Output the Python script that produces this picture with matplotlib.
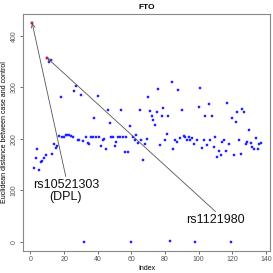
import matplotlib
matplotlib.use('Agg')
import matplotlib.pyplot as plt
import numpy as np

# distance per SNP index
dist = [425, 144, 162, 181, 139, 156, 158, 162, 169, 357,
        350, 354, 171, 190, 182, 186, 205, 281, 203, 203,
        207, 207, 207, 206, 203, 294, 303, 198, 197, 286,
        196, 0, 204, 192, 190, 204, 204, 241, 203, 284,
        203, 187, 198, 200, 181, 257, 230, 204, 204, 187,
        195, 203, 204, 257, 204, 175, 204, 175, 226, 0,
        204, 198, 208, 192, 257, 198, 160, 190, 199, 281,
        255, 244, 236, 228, 253, 296, 189, 244, 261, 198,
        209, 244, 2, 310, 181, 198, 195, 295, 201, 257,
        205, 204, 198, 204, 198, 202, 190, 0, 198, 262,
        299, 183, 198, 245, 188, 268, 198, 245, 185, 204,
        165, 177, 168, 194, 198, 177, 270, 191, 0, 240,
        169, 232, 252, 198, 171, 259, 252, 190, 195, 218,
        193, 185, 180, 202, 180, 190, 193]
highlight = [1, 10]
labels = ['rs10521303\n(DPL)', 'rs1121980']
label_pos = [(21, 127), (110, 59)]

idx = np.arange(1, len(dist) + 1)
dist = np.array(dist, dtype=float)

plt.rcParams['font.family'] = ['Liberation Sans', 'DejaVu Sans']
fig = plt.figure(figsize=(2.73, 2.73), dpi=100)
ax = fig.add_axes([0.0842, 0.0817, 0.905, 0.866])

ax.plot(idx, dist, 's', color='#2222ff', markersize=1.7, markeredgewidth=0.3)
hl = np.array(highlight)
ax.plot(hl, dist[hl - 1], 's', color='#ee1111', markersize=2.0, markeredgewidth=0.3)

for h, lab, (tx, ty) in zip(highlight, labels, label_pos):
    ax.annotate('', xy=(h, dist[h - 1]), xytext=(tx, ty),
                arrowprops=dict(arrowstyle='->', color='#555555', lw=0.6,
                                shrinkA=0, shrinkB=0, mutation_scale=7))
    ax.text(tx, ty - 4, lab, ha='center', va='top', fontsize=9,
            linespacing=1.05, color='#111111')

n = len(dist)
ext = 0.04 * (n - 1)
ax.set_xlim(1 - ext, n + ext)
ax.set_ylim(-0.04 * dist.max(), dist.max() * 1.04)
ax.set_xticks(range(0, 141, 20))
ax.set_yticks(range(0, 401, 100))
ax.tick_params(labelsize=5, colors='#555555', length=2.5, width=0.6, pad=1.5)
for t in ax.get_yticklabels():
    t.set_rotation(90)
    t.set_va('center')
for s in ax.spines.values():
    s.set_color('#888888')
    s.set_linewidth(0.8)

ax.set_title('FTO', fontsize=6, fontweight='bold', pad=4)
ax.set_xlabel('Index', fontsize=5, labelpad=1)
ax.set_ylabel('Euclidean distance between case and control', fontsize=5, labelpad=1.5)

fig.savefig('out.png', dpi=100)
